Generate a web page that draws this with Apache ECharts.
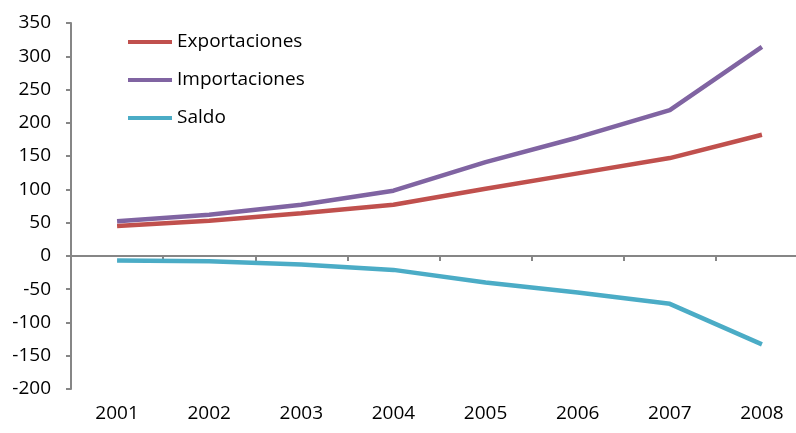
<!DOCTYPE html>
<html>
<head>
<meta charset="utf-8">
<script src="https://cdn.jsdelivr.net/npm/echarts@6/dist/echarts.min.js"></script>
<style>html,body{margin:0;padding:0;background:#fff;overflow:hidden}#c{width:830px;height:433px}</style>
</head>
<body>
<div id="c"></div>
<script>
var years = ['2001','2002','2003','2004','2005','2006','2007','2008'];
var exportaciones = [45, 53, 64, 77, 101, 124, 147, 182];
var importaciones = [52, 62, 77, 98, 141, 178, 219, 314];
var saldo = [-7, -8, -13, -21, -40, -55, -72, -133];
var yTicks = {min: -200, max: 350, interval: 50};

var FONT = '"Open Sans", sans-serif';
var LINE_ICON = 'path://M0,0 L44,0 L44,4 L0,4 Z';
var chart = echarts.init(document.getElementById('c'));
chart.setOption({
  animation: false,
  backgroundColor: '#fff',
  grid: {left: 71, top: 23, width: 737, bottom: 44, containLabel: false},
  legend: {
    orient: 'vertical', left: 123, top: 27,
    itemWidth: 44, itemHeight: 4, itemGap: 18,
    icon: LINE_ICON,
    textStyle: {fontFamily: FONT, fontSize: 19, lineHeight: 20, color: '#000'},
    data: ['Exportaciones', 'Importaciones', 'Saldo']
  },
  xAxis: [{
    type: 'category', data: years, boundaryGap: true,
    axisLine: {onZero: true, lineStyle: {color: '#868686', width: 2}},
    axisTick: {show: true, length: 5, inside: false, lineStyle: {color: '#868686', width: 2}},
    axisLabel: {show: false}
  }, {
    type: 'category', data: years, boundaryGap: true, position: 'bottom',
    axisLine: {show: false}, axisTick: {show: false},
    axisLabel: {fontFamily: FONT, fontSize: 19, color: '#000', margin: 15}
  }],
  yAxis: {
    type: 'value', min: yTicks.min, max: yTicks.max, interval: yTicks.interval,
    splitLine: {show: false},
    axisLine: {show: true, lineStyle: {color: '#868686', width: 2}},
    axisTick: {show: true, length: 5, lineStyle: {color: '#868686', width: 2}},
    axisLabel: {fontFamily: FONT, fontSize: 19, color: '#000', margin: 20}
  },
  series: [
    {name: 'Exportaciones', type: 'line', data: exportaciones, symbol: 'none',
     lineStyle: {color: '#C0504D', width: 4.5}, itemStyle: {color: '#C0504D'}},
    {name: 'Importaciones', type: 'line', data: importaciones, symbol: 'none',
     lineStyle: {color: '#8064A2', width: 4.5}, itemStyle: {color: '#8064A2'}},
    {name: 'Saldo', type: 'line', data: saldo, symbol: 'none',
     lineStyle: {color: '#4BACC6', width: 4.5}, itemStyle: {color: '#4BACC6'}}
  ]
});
</script>
</body>
</html>
